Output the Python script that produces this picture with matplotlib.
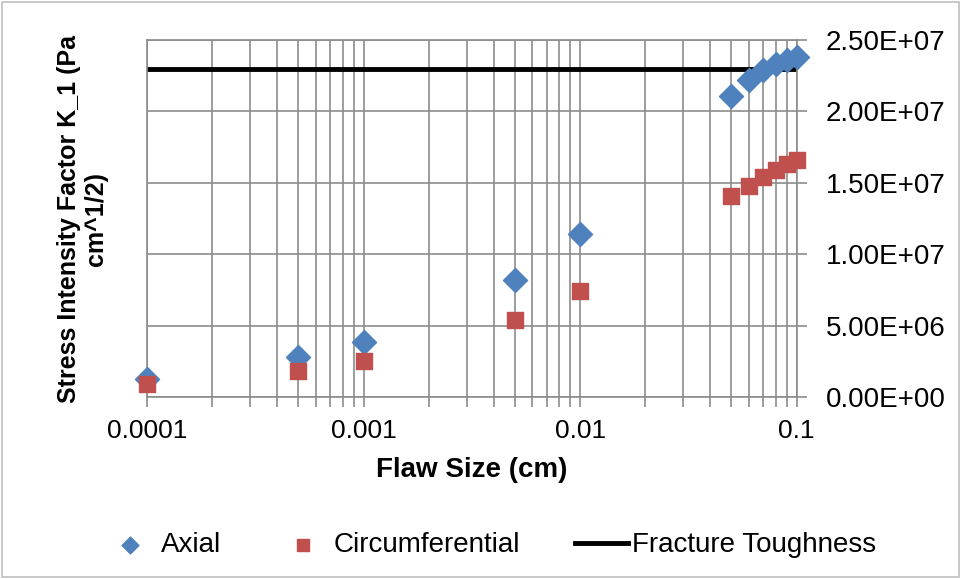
import numpy as np
import matplotlib.pyplot as plt

plt.rcParams['font.family'] = ['Liberation Sans', 'DejaVu Sans']

# Flaw sizes (cm)
flaw = [0.0001, 0.0005, 0.001, 0.005, 0.01, 0.05, 0.06, 0.07, 0.08, 0.09, 0.1]
# Stress intensity factors
axial = [1.3e6, 2.8e6, 3.85e6, 8.2e6, 1.14e7, 2.11e7, 2.22e7, 2.29e7, 2.33e7, 2.36e7, 2.38e7]
circ = [0.9e6, 1.85e6, 2.55e6, 5.4e6, 7.45e6, 1.41e7, 1.48e7, 1.54e7, 1.59e7, 1.63e7, 1.66e7]
toughness = 2.3e7
yticks = [0, 5e6, 1e7, 1.5e7, 2e7, 2.5e7]
ytick_labels = ['0.00E+00', '5.00E+06', '1.00E+07', '1.50E+07', '2.00E+07', '2.50E+07']

fig = plt.figure(figsize=(9.61, 5.79), dpi=100)
ax = fig.add_axes([0.153, 0.314, 0.676, 0.617])

ax.scatter(flaw, axial, marker='D', s=150, color='#4F81BD', label='Axial',
           zorder=3, clip_on=False)
ax.scatter(flaw, circ, marker='s', s=130, color='#C0504D', label='Circumferential',
           zorder=3, clip_on=False)
ax.plot([1e-4, 0.1], [toughness, toughness], color='black', linewidth=3.5,
        label='Fracture Toughness', zorder=2)

ax.set_xscale('log')
ax.set_xlim(1e-4, 0.1)
ax.set_ylim(0, 2.5e7)
ax.set_xticks([1e-4, 1e-3, 1e-2, 1e-1])
ax.set_xticklabels(['0.0001', '0.001', '0.01', '0.1'])
ax.yaxis.tick_right()
ax.set_yticks(yticks)
ax.set_yticklabels(ytick_labels)
ax.tick_params(axis='both', which='both', length=7, color='#8C8C8C', width=1.2,
               labelsize=19)
ax.tick_params(axis='y', labelsize=20, pad=14)
ax.tick_params(axis='x', pad=9)

ax.grid(True, which='major', color='#8C8C8C', linewidth=1.2)
ax.grid(True, which='minor', axis='x', color='#8C8C8C', linewidth=1.2)
for s in ax.spines.values():
    s.set_color('#8C8C8C')
    s.set_linewidth(1.2)

ax.set_xlabel('Flaw Size (cm)', fontsize=20, fontweight='bold', labelpad=10)
ax.set_ylabel('Stress Intensity Factor K_1 (Pa\ncm^1/2)', fontsize=18,
              fontweight='bold', labelpad=28, linespacing=1.15)

fig.legend(loc='center', bbox_to_anchor=(0.51, 0.058), ncol=3, frameon=False,
           fontsize=20, handlelength=1.9, handletextpad=0.15, columnspacing=2.0,
           markerscale=0.7)

border = plt.Rectangle((0.002, 0.003), 0.996, 0.994, transform=fig.transFigure,
                       fill=False, edgecolor='#BFBFBF', linewidth=1.2)
fig.patches.append(border)

fig.savefig('out.png', dpi=100)
